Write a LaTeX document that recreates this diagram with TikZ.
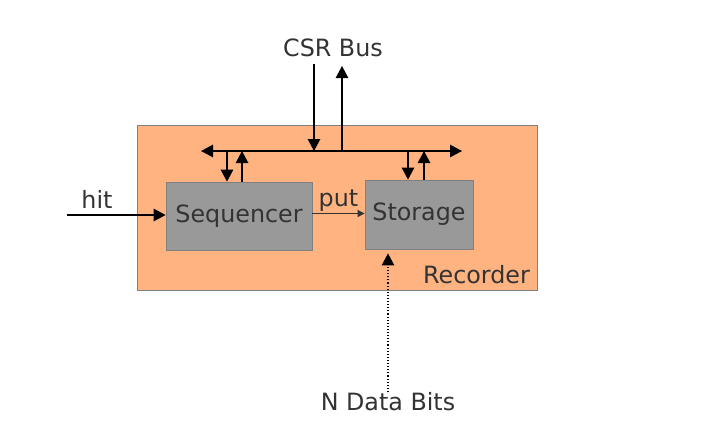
\documentclass[tikz,border=0pt]{standalone}
\usepackage{fontspec}
\setmainfont{DejaVu Sans}
\usetikzlibrary{arrows.meta,positioning}
\definecolor{recfill}{HTML}{FFB380}
\definecolor{boxfill}{HTML}{999999}
\definecolor{boxline}{HTML}{808080}
\definecolor{txtgray}{HTML}{333333}
\tikzset{
  bigtip/.tip={Triangle[length=12pt,width=12.5pt]},
  smalltip/.tip={Triangle[length=7pt,width=7pt]},
  blockbox/.style={draw=boxline,fill=boxfill,line width=0.8pt,inner sep=0pt,
    text=txtgray,font=\fontsize{23.8}{27}\selectfont,text height=17pt,text depth=5pt},
  sigline/.style={draw=black,line width=1.2pt,-bigtip},
  lbl/.style={text=txtgray,font=\fontsize{23.8}{27}\selectfont,inner sep=0pt,anchor=base},
}

\begin{document}
\begin{tikzpicture}[x=1pt,y=-1pt]
  \useasboundingbox (0,0) rectangle (722,421);
  % recorder and its blocks
  \node[draw=boxline,fill=recfill,line width=0.8pt,minimum width=400pt,minimum height=165pt,inner sep=0pt] (rec) at (337,207.5) {};
  \node[blockbox,minimum width=146pt,minimum height=68pt] (seq) at (239,216) {Sequencer};
  \node[blockbox,minimum width=108pt,minimum height=69pt] (sto) at (419,214.5) {Storage};
  \node[lbl] (reclbl) at (476.5,283) {Recorder};
  % labels outside
  \node[lbl] (csrlbl) at (333,56) {CSR Bus};
  \node[lbl] (hitlbl) at (97,208.5) {hit};
  \node[lbl] (putlbl) at (338.5,206) {put};
  \node[lbl] (nbitslbl) at (388,410) {N Data Bits};
  % bus
  \coordinate (busL) at (201,151);
  \coordinate (busR) at (462,151);
  \draw[sigline,bigtip-bigtip] (busL) -- (busR);
  \coordinate (csrIn) at (314,64);
  \coordinate (csrOut) at (342,66);
  \draw[sigline] (csrIn) -- (csrIn |- busL);
  \draw[sigline] (csrOut |- busL) -- (csrOut);
  \coordinate (seqdn) at (227,151);
  \coordinate (sequp) at (242,151);
  \coordinate (stodn) at (408,151);
  \coordinate (stoup) at (424,151);
  \draw[sigline] (seqdn) -- (seqdn |- seq.north);
  \draw[sigline] (sequp |- seq.north) -- (sequp);
  \draw[sigline] (stodn) -- (stodn |- sto.north);
  \draw[sigline] (stoup |- sto.north) -- (stoup);
  % signals
  \coordinate (hitsrc) at (67,215);
  \draw[sigline] (hitsrc) -- (hitsrc -| seq.west);
  \coordinate (putsrc) at (312,213.5);
  \draw[draw=black!80,line width=0.9pt,-smalltip] (putsrc) -- (putsrc -| sto.west);
  \coordinate (nbits) at (388,392);
  \draw[draw=black,line width=1.1pt,dotted,-bigtip,shorten >=4pt] (nbits) -- (nbits |- sto.south);
\end{tikzpicture}
\end{document}
